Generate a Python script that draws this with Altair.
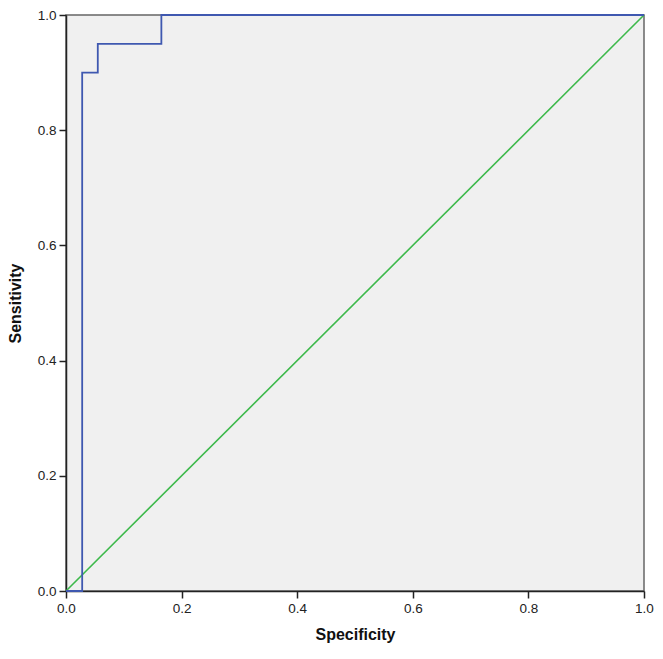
import altair as alt
import pandas as pd

# ROC curve points (x axis labelled "Specificity", y "Sensitivity")
roc_x = [0.0, 0.028, 0.055, 0.165, 1.0]
roc_y = [0.0, 0.90, 0.95, 1.00, 1.0]
ref_x = [0.0, 1.0]
ref_y = [0.0, 1.0]
ticks = [0.0, 0.2, 0.4, 0.6, 0.8, 1.0]

roc = pd.DataFrame({"x": roc_x, "y": roc_y})
ref = pd.DataFrame({"x": ref_x, "y": ref_y})

xs = alt.Scale(domain=[0, 1], nice=False, zero=False)
ys = alt.Scale(domain=[0, 1], nice=False, zero=False)

common = dict(values=ticks, format=".1f", grid=False, labelFlush=False,
              tickSize=7, tickColor="#222", tickWidth=1.5, domainColor="#222", domainWidth=1.5,
              labelFont="Liberation Sans", labelFontSize=13.5, labelColor="#222", labelPadding=3,
              titleFont="Liberation Sans", titleFontSize=16, titleFontWeight="bold",
              titleColor="#111")
xax = alt.Axis(title="Specificity", titlePadding=12, **common)
yax = alt.Axis(title="Sensitivity", titlePadding=14, **common)

diag = alt.Chart(ref).mark_line(color="#3DB94B", strokeWidth=1.6, clip=False).encode(
    x=alt.X("x:Q", scale=xs, axis=xax),
    y=alt.Y("y:Q", scale=ys, axis=yax),
)
curve = alt.Chart(roc).mark_line(color="#3F58B0", strokeWidth=1.8, interpolate="step-after", clip=False).encode(
    x=alt.X("x:Q", scale=xs),
    y=alt.Y("y:Q", scale=ys),
)

chart = (diag + curve).properties(
    width=578, height=576,
    autosize=alt.AutoSizeParams(type="none"),
    padding={"left": 58, "top": 7, "right": 11, "bottom": 52},
    background="white",
).configure_view(fill="#F0F0F0", stroke="#666", strokeWidth=1.5)

chart.save("out.html", embed_options={"renderer": "svg", "actions": False})
